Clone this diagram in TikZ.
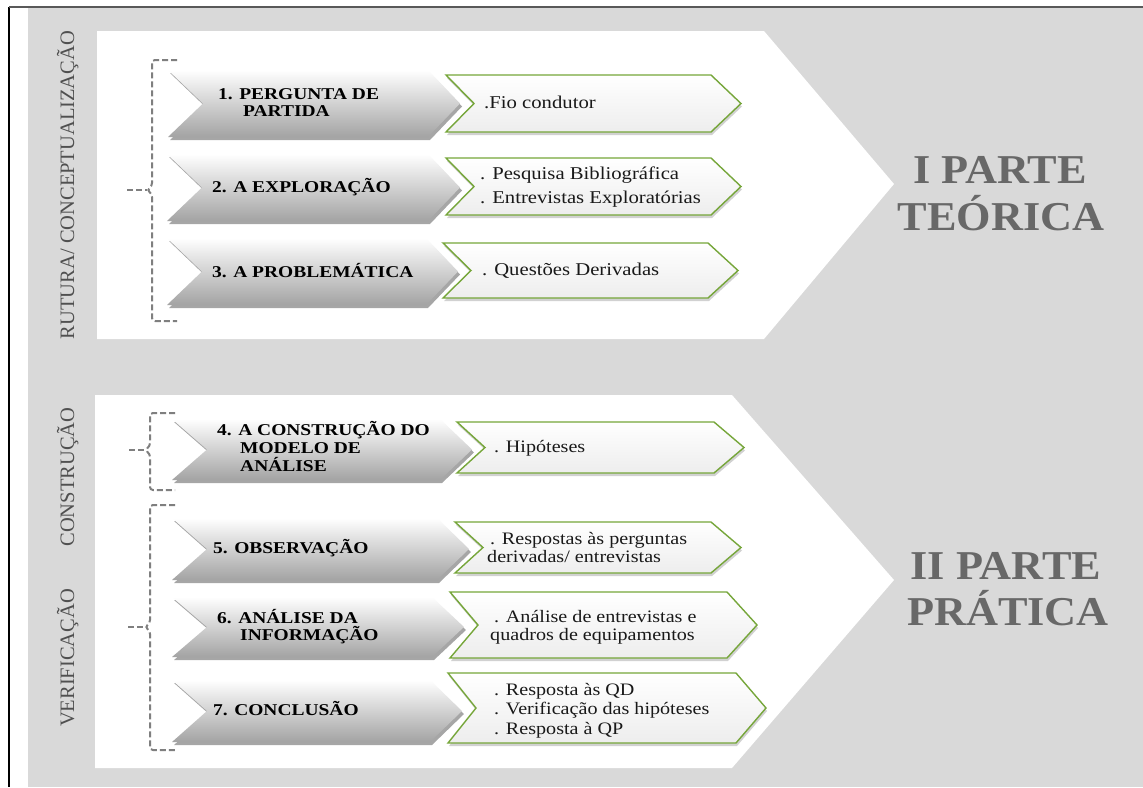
\documentclass[tikz,border=0pt]{standalone}
\usepackage{fontspec}
\setmainfont{Liberation Serif}
\newfontfamily\boxbf[FakeStretch=1.18]{Liberation Serif Bold}
\newfontfamily\greenf[FakeStretch=1.15]{Liberation Serif}
\newfontfamily\bigbf[FakeStretch=1.08]{Liberation Serif Bold}
\definecolor{panelbg}{HTML}{D9D9D9}
\definecolor{grn}{RGB}{118,166,58}
\definecolor{lbl}{HTML}{505050}
\definecolor{brkc}{HTML}{7F7F7F}
\definecolor{bigc}{HTML}{686868}
\newcommand{\grayarrow}[4]{%
  \pgfmathsetmacro{\ym}{(#3+#4)/2}%
  \fill[black, opacity=0.35] ({#1+2},{#3+3}) -- ({#2-30},{#3+3}) -- ({#2+2},{\ym+3}) -- ({#2-30},{#4+3}) -- ({#1+2},{#4+3}) -- ({#1+37},{\ym+3}) -- cycle;
  \shade[top color=white, middle color=black!9, bottom color=black!36] (#1,#3) -- ({#2-32},#3) -- (#2,\ym) -- ({#2-32},#4) -- (#1,#4) -- ({#1+35},\ym) -- cycle;
}
\newcommand{\greenarrow}[4]{%
  \pgfmathsetmacro{\ym}{(#3+#4)/2}%
  \fill[black, opacity=0.18] ({#1+1},{#3+3}) -- ({#2-29},{#3+3}) -- ({#2+1},{\ym+3}) -- ({#2-29},{#4+3}) -- ({#1+1},{#4+3}) -- ({#1+29},{\ym+3}) -- cycle;
  \shadedraw[top color=white, bottom color=black!7, draw=grn, line width=1.4pt, line join=miter] (#1,#3) -- ({#2-30},#3) -- (#2,\ym) -- ({#2-30},#4) -- (#1,#4) -- ({#1+28},\ym) -- cycle;
}
\tikzset{
  gt/.style={anchor=base west, inner sep=0pt, font={\boxbf\fontsize{16.5}{18}\selectfont}, text=black},
  wt/.style={anchor=base west, inner sep=0pt, font={\greenf\fontsize{18}{20}\selectfont}, text=black!90},
  wts/.style={anchor=base west, inner sep=0pt, font={\greenf\fontsize{17.5}{19}\selectfont}, text=black!90},
  vlab/.style={rotate=90, anchor=base, inner sep=0pt, font={\fontsize{20.5}{22}\selectfont}, text=lbl},
  bigt/.style={anchor=base, inner sep=0pt, font={\bigbf\fontsize{41}{44}\selectfont}, text=bigc},
  brk/.style={draw=brkc, line width=2pt, dash pattern=on 6pt off 3pt, rounded corners=3pt}
}
\begin{document}
\begin{tikzpicture}[x=1pt, y=-1pt]
\useasboundingbox (0,0) rectangle (1143,787);
% background
\fill[white] (0,0) rectangle (1143,787);
\fill[panelbg] (28,8) rectangle (1143,787);
\draw[black, line width=1.2pt] (9,7) -- (9,787);
\draw[black!65, line width=2pt] (9,7) -- (1143,7);
% panels
\fill[white] (97,31) -- (764,31) -- (894,184) -- (764,339) -- (97,339) -- cycle;
\fill[white] (95,395) -- (732,395) -- (894,580) -- (732,768) -- (95,768) -- cycle;
% left labels
\node[vlab] (lab1) at (74,185) {RUTURA/ CONCEPTUALIZAÇÃO};
\node[vlab] (lab2) at (74,477) {CONSTRUÇÃO};
\node[vlab] (lab3) at (74,658) {VERIFICAÇÃO};
% brackets
\draw[brk] (177,60) -- (152,60) -- (152,186) -- (147,190) -- (152,194) -- (152,321) -- (177,321);
\draw[brk, rounded corners=0pt] (127,190) -- (147,190);
\draw[brk] (175,413) -- (150,413) -- (150,446) -- (145,450) -- (150,454) -- (150,490) -- (175,490);
\draw[brk, rounded corners=0pt] (129,450) -- (145,450);
\draw[brk] (175,505) -- (150,505) -- (150,623) -- (145,627) -- (150,631) -- (150,750) -- (175,750);
\draw[brk, rounded corners=0pt] (128,627) -- (145,627);
% gray arrows
\grayarrow{168}{460}{70}{137}
\grayarrow{167}{460}{154}{221}
\grayarrow{167}{458}{238}{305}
\grayarrow{172}{472}{419}{480}
\grayarrow{172}{469}{518}{580}
\grayarrow{172}{464}{597}{657}
\grayarrow{172}{462}{680}{742}
% green arrows
\greenarrow{446}{741}{75}{132}
\greenarrow{446}{741}{158}{215}
\greenarrow{443}{738}{243}{298}
\greenarrow{457}{744}{422}{473}
\greenarrow{455}{741}{522}{573}
\greenarrow{450}{757}{592}{658}
\greenarrow{448}{766}{673}{743}
% gray texts
\node[gt] (s1a) at (218,99) {1. PERGUNTA DE};
\node[gt] (s1b) at (243,116) {PARTIDA};
\node[gt] (s2) at (212,192) {2. A EXPLORAÇÃO};
\node[gt] (s3) at (212,277) {3. A PROBLEMÁTICA};
\node[gt] (s4a) at (217,435) {4. A CONSTRUÇÃO DO};
\node[gt] (s4b) at (240,453) {MODELO DE};
\node[gt] (s4c) at (240,471) {ANÁLISE};
\node[gt] (s5) at (213,553) {5. OBSERVAÇÃO};
\node[gt] (s6a) at (217,623) {6. ANÁLISE DA};
\node[gt] (s6b) at (240,640) {INFORMAÇÃO};
\node[gt] (s7) at (213,715) {7. CONCLUSÃO};
% green texts
\node[wt] (d1) at (484,108) {.Fio condutor};
\node[wt] (d2a) at (480,179) {. Pesquisa Bibliográfica};
\node[wt] (d2b) at (480,203) {. Entrevistas Exploratórias};
\node[wt] (d3) at (482,275) {. Questões Derivadas};
\node[wts] (d4) at (494,452) {. Hipóteses};
\node[wts] (d5a) at (490,544) {. Respostas às perguntas};
\node[wts] (d5b) at (487,562) {derivadas/ entrevistas};
\node[wts] (d6a) at (494,622) {. Análise de entrevistas e};
\node[wts] (d6b) at (490,640) {quadros de equipamentos};
\node[wts] (d7a) at (494,695) {. Resposta às QD};
\node[wts] (d7b) at (494,714) {. Verificação das hipóteses};
\node[wts] (d7c) at (494,734) {. Resposta à QP};
% big titles
\node[bigt] (p1a) at (1000,183) {I PARTE};
\node[bigt] (p1b) at (1001,230) {TEÓRICA};
\node[bigt] (p2a) at (1006,579) {II PARTE};
\node[bigt] (p2b) at (1008,625) {PRÁTICA};
\end{tikzpicture}
\end{document}
